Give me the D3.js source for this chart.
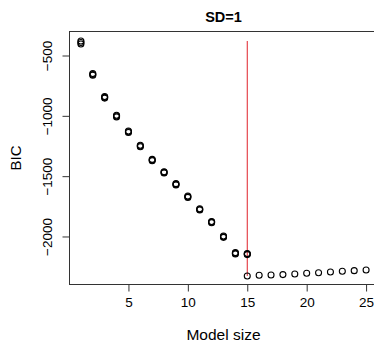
<!DOCTYPE html>
<html>
<head>
<meta charset="utf-8">
<script src="https://cdn.jsdelivr.net/npm/d3@7"></script>
<style>
  body { margin: 0; background: #fff; }
  text { font-family: "Liberation Sans", Arial, sans-serif; fill: #000; }
</style>
</head>
<body>
<div id="chart"></div>
<script>
// model sizes for the forward path
const sizes = [1, 2, 3, 4, 5, 6, 7, 8, 9, 10, 11, 12, 13, 14, 15];

// BIC along the path, several overlapping runs
const run1 = [-380, -650, -840, -995, -1126, -1244, -1361, -1463, -1562, -1665, -1770, -1876, -1996, -2134, -2141];
const run2 = [-392, -657, -847, -1002, -1132, -1250, -1367, -1469, -1568, -1671, -1776, -1881, -2002, -2140, -2146];
const run3 = [-404, -664, -853, -1009, -1138, -1256, -1372, -1474, -1573, -1676, -1781, -1886, -2007, -2145, -2150];

// BIC for the larger models
const sizesTail = [15, 16, 17, 18, 19, 20, 21, 22, 23, 24, 25];
const bicTail = [-2327, -2321, -2319, -2316, -2311, -2305, -2300, -2294, -2288, -2283, -2278];

const chosenSize = 15;
const xTicks = [5, 10, 15, 20, 25];
const yTicks = [-500, -1000, -1500, -2000];

class makeChart {

    constructor(opts) {
        Object.assign(this, opts);
        this.update();
    }

    update() {
        this._setDimensions();
        this._setScales();
        this.draw();
    }

    _setDimensions() {
        this.width = 374;
        this.height = 346;
        this.margin = { top: 31.5, right: -3.5, bottom: 61.5, left: 69.5 };
        this.plotW = this.width - this.margin.left - this.margin.right;
        this.plotH = this.height - this.margin.top - this.margin.bottom;
    }

    _setScales() {
        // R style: 4% padding on each side
        this.xScale = d3.scaleLinear()
            .domain([0.04, 25.96])
            .range([0, this.plotW]);

        this.yScale = d3.scaleLinear()
            .domain([-2398, -301])
            .range([this.plotH, 0]);
    }

    draw() {
        this.element.innerHTML = "";

        this.svg = d3.select(this.element).append("svg")
            .attr("width", this.width)
            .attr("height", this.height);

        this.plot = this.svg.append("g")
            .attr("transform", `translate(${this.margin.left},${this.margin.top})`);

        const x = this.xScale, y = this.yScale;

        // axes
        const xAxis = d3.axisBottom(x).tickValues(xTicks).tickSize(7).tickPadding(6).tickFormat(d3.format("d"));
        const gx = this.plot.append("g")
            .attr("transform", `translate(0,${this.plotH})`)
            .call(xAxis);
        gx.select(".domain").remove();
        gx.selectAll("line").attr("stroke", "#333");
        gx.selectAll("text").style("font-size", "13.5px").attr("font-family", null);

        const yAxis = d3.axisLeft(y).tickValues(yTicks).tickSize(7).tickFormat(d => d3.format("d")(d).replace("-", "\u2212"));
        const gy = this.plot.append("g").call(yAxis);
        gy.select(".domain").remove();
        gy.selectAll("line").attr("stroke", "#333");
        gy.selectAll("text")
            .attr("x", null).attr("dy", null)
            .attr("text-anchor", "middle")
            .attr("transform", "translate(-18,0) rotate(-90)")
            .style("font-size", "13.5px")
            .attr("font-family", null);

        // box
        this.plot.append("rect")
            .attr("width", this.plotW)
            .attr("height", this.plotH)
            .attr("fill", "none")
            .attr("stroke", "#333")
            .attr("stroke-width", 1);

        // red line at the chosen size
        const all = run1.concat(run2, run3, bicTail);
        this.plot.append("line")
            .attr("x1", x(chosenSize)).attr("x2", x(chosenSize))
            .attr("y1", y(d3.max(all))).attr("y2", y(d3.min(all)))
            .attr("stroke", "#e0202a")
            .attr("stroke-width", 1);

        // points
        [run1, run2, run3].forEach(run => {
            this.plot.append("g").selectAll("circle")
                .data(sizes.map((s, i) => [s, run[i]]))
                .join("circle")
                .attr("cx", d => x(d[0]))
                .attr("cy", d => y(d[1]))
                .attr("r", 3)
                .attr("fill", "none")
                .attr("stroke", "#000")
                .attr("stroke-width", 1.1);
        });

        this.plot.append("g").selectAll("circle")
            .data(sizesTail.map((s, i) => [s, bicTail[i]]))
            .join("circle")
            .attr("cx", d => x(d[0]))
            .attr("cy", d => y(d[1]))
            .attr("r", 3)
            .attr("fill", "none")
            .attr("stroke", "#000")
            .attr("stroke-width", 1.1);

        // titles
        const cx = this.margin.left + this.plotW / 2;
        this.svg.append("text")
            .attr("x", cx).attr("y", 21.5)
            .attr("text-anchor", "middle")
            .style("font-size", "14.5px")
            .style("font-weight", "bold")
            .text("SD=1");

        this.svg.append("text")
            .attr("x", cx).attr("y", 340)
            .attr("text-anchor", "middle")
            .style("font-size", "15.5px")
            .text("Model size");

        this.svg.append("text")
            .attr("transform", `translate(21,${this.margin.top + this.plotH / 2}) rotate(-90)`)
            .attr("text-anchor", "middle")
            .style("font-size", "15px")
            .text("BIC");
    }
}

new makeChart({ element: document.getElementById("chart") });
</script>
</body>
</html>
